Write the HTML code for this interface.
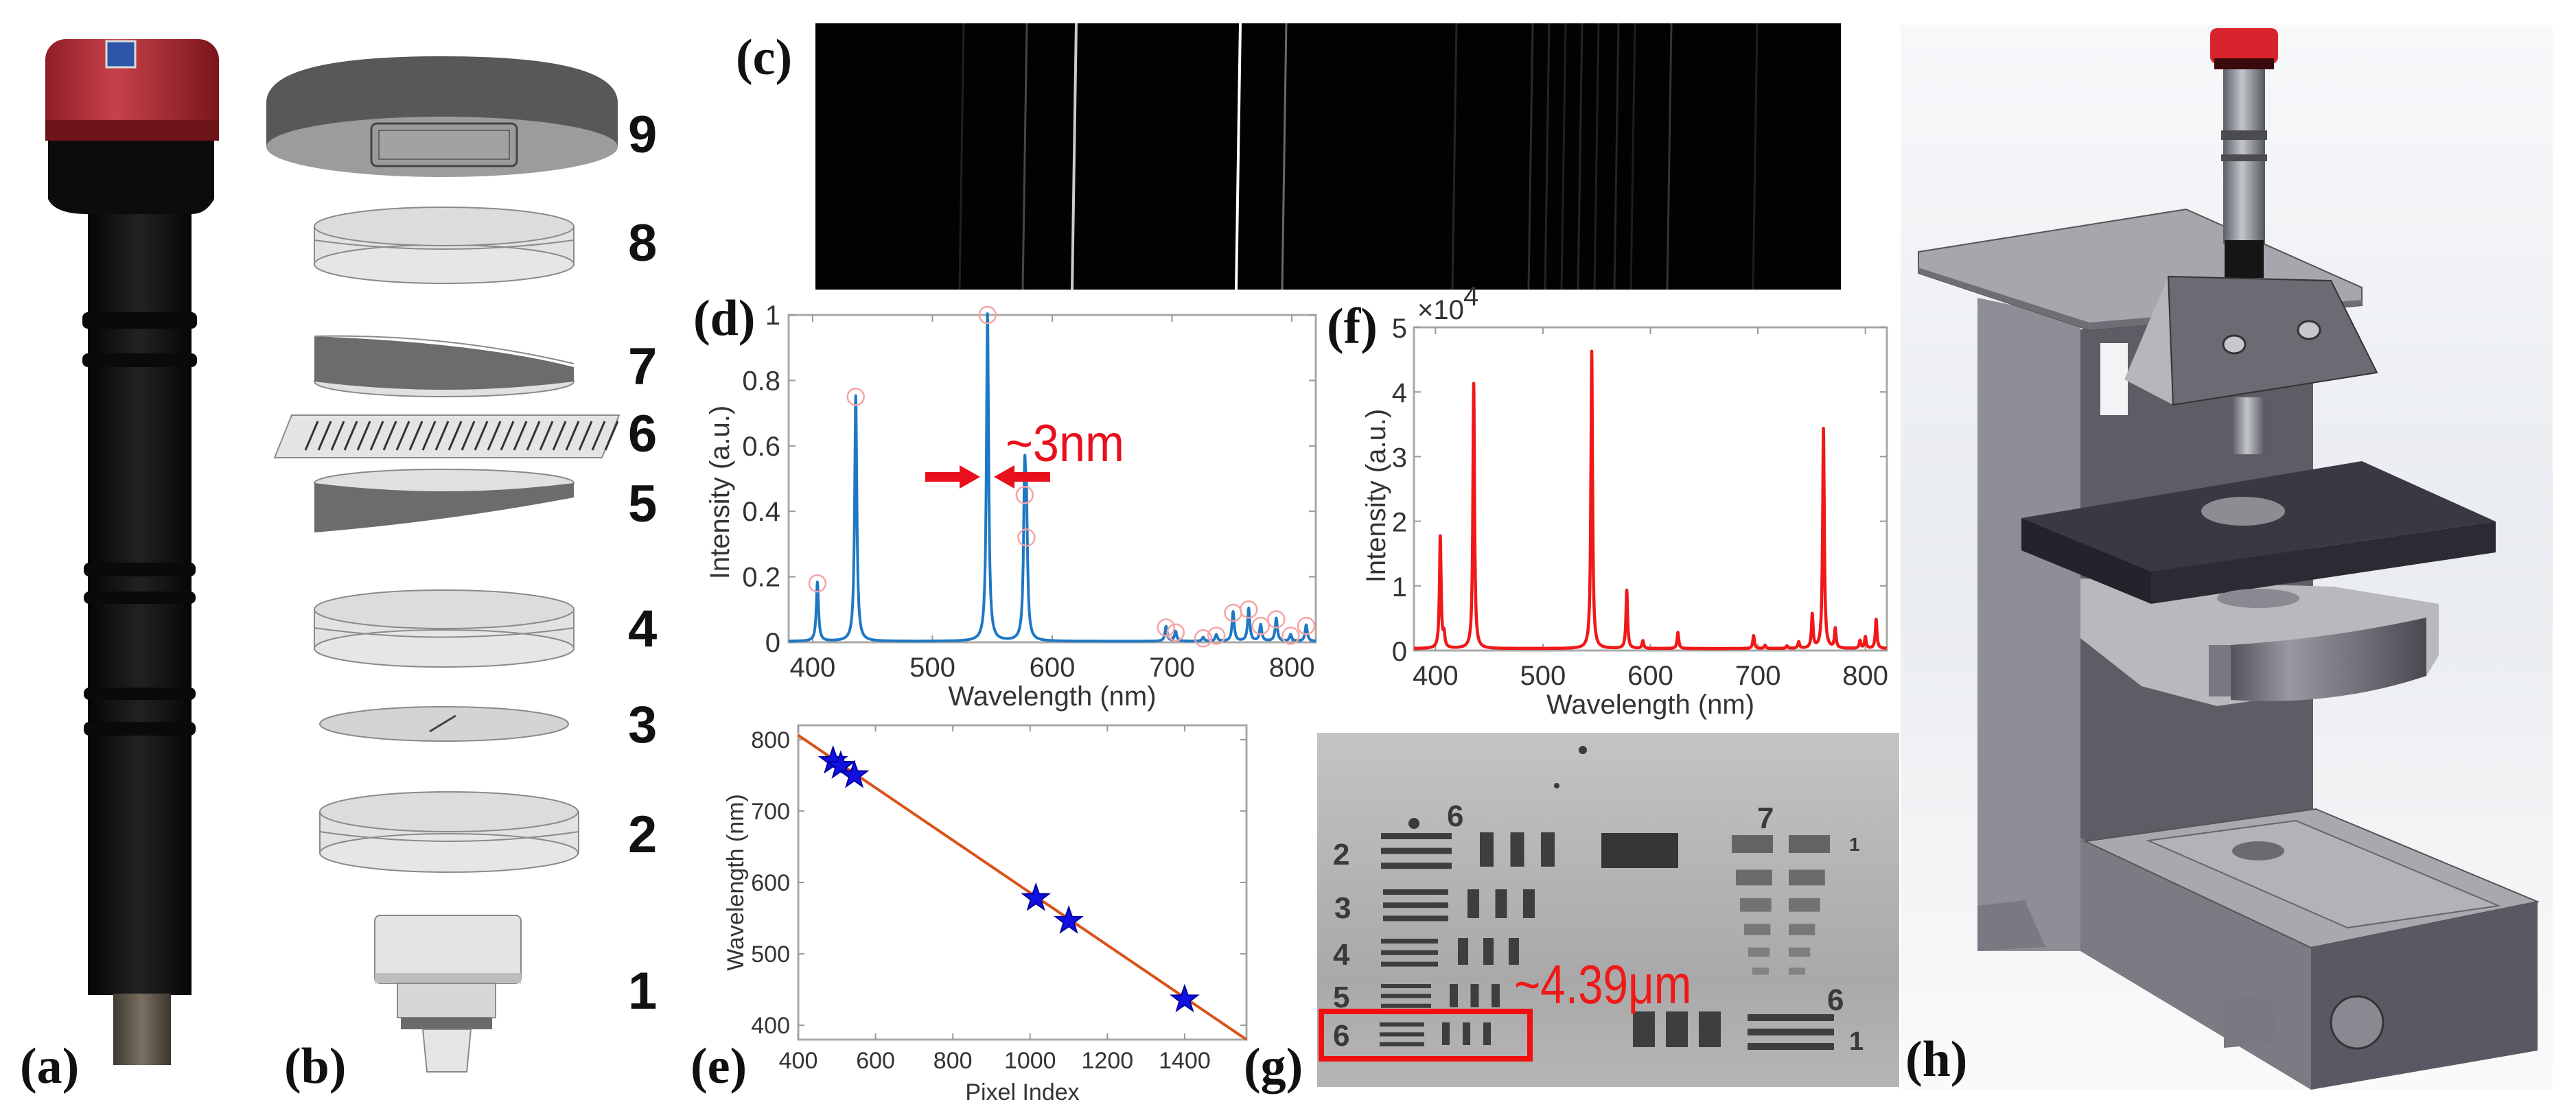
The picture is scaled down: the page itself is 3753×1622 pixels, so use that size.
<!DOCTYPE html>
<html><head><meta charset="utf-8">
<style>
html,body{margin:0;padding:0;background:#fff;}
svg{display:block;}
.lbl{font-family:"Liberation Serif",serif;font-weight:bold;font-size:74px;fill:#111;}
.num{font-family:"Liberation Sans",sans-serif;font-weight:bold;font-size:76px;fill:#111;}
.tk{font-family:"Liberation Sans",sans-serif;font-size:40px;fill:#333;}
.tke{font-family:"Liberation Sans",sans-serif;font-size:34px;fill:#333;}
</style></head>
<body>
<svg id="fig" width="3753" height="1622" viewBox="0 0 3753 1622" xmlns="http://www.w3.org/2000/svg">
<defs>
<linearGradient id="redg" x1="0" x2="1"><stop offset="0" stop-color="#8e1e26"/><stop offset="0.4" stop-color="#c8414a"/><stop offset="1" stop-color="#7a161d"/></linearGradient>
<linearGradient id="tubeg" x1="0" x2="1"><stop offset="0" stop-color="#050505"/><stop offset="0.5" stop-color="#222"/><stop offset="1" stop-color="#060606"/></linearGradient>
<linearGradient id="bronze" x1="0" x2="1"><stop offset="0" stop-color="#3e3a33"/><stop offset="0.5" stop-color="#7a7060"/><stop offset="1" stop-color="#3a352e"/></linearGradient>
<linearGradient id="hbg" x1="0" y1="0" x2="0" y2="1"><stop offset="0" stop-color="#f7f8fa"/><stop offset="0.5" stop-color="#e9ecf0"/><stop offset="1" stop-color="#fafafa"/></linearGradient>
<linearGradient id="silver" x1="0" x2="1"><stop offset="0" stop-color="#5c5e66"/><stop offset="0.45" stop-color="#c4c6cc"/><stop offset="1" stop-color="#55575e"/></linearGradient>
<linearGradient id="gbg" x1="0" y1="0" x2="0" y2="1"><stop offset="0" stop-color="#c4c4c4"/><stop offset="0.45" stop-color="#b2b2b2"/><stop offset="0.7" stop-color="#a9a9a9"/><stop offset="1" stop-color="#b6b6b6"/></linearGradient>
<linearGradient id="roundside" x1="0" x2="1"><stop offset="0" stop-color="#55535b"/><stop offset="0.3" stop-color="#9a98a0"/><stop offset="1" stop-color="#4a4850"/></linearGradient>
</defs>

<g>
  <rect x="128" y="300" width="151" height="1150" fill="url(#tubeg)"/>
  <rect x="120" y="455" width="167" height="24" rx="8" fill="#0a0a0a"/>
  <rect x="120" y="515" width="167" height="20" rx="8" fill="#0a0a0a"/>
  <rect x="122" y="820" width="163" height="20" rx="8" fill="#0a0a0a"/>
  <rect x="122" y="862" width="163" height="18" rx="8" fill="#0a0a0a"/>
  <rect x="122" y="1002" width="163" height="18" rx="8" fill="#0a0a0a"/>
  <rect x="122" y="1052" width="163" height="20" rx="8" fill="#0a0a0a"/>
  <path d="M70 200 L312 200 L312 290 Q300 312 279 312 L128 312 Q80 312 70 290 Z" fill="#0c0c0c"/>
  <rect x="66" y="57" width="253" height="148" rx="30" fill="url(#redg)"/>
  <rect x="66" y="175" width="253" height="30" fill="#6e1318"/>
  <rect x="155" y="60" width="42" height="38" fill="#2d55a8" stroke="#ddd" stroke-width="3"/>
  <rect x="165" y="1448" width="84" height="104" fill="url(#bronze)"/>
</g>
<text class="lbl" x="29" y="1578">(a)</text>

<g stroke="#8a8a8a" stroke-width="2">
  <g>
    <path d="M388 150 Q388 82 644 82 Q900 82 900 150 L900 214 L388 214 Z" fill="#585858" stroke="none"/>
    <ellipse cx="644" cy="214" rx="256" ry="44" fill="#9c9c9c" stroke="none"/>
    <rect x="541" y="180" width="212" height="62" rx="8" fill="#9a9a9a" stroke="#444" stroke-width="3"/>
    <rect x="552" y="190" width="190" height="42" fill="#a2a2a2" stroke="#666" stroke-width="2"/>
  </g>
  <g>
    <path d="M458 330 L836 330 L836 385 L458 385 Z" fill="#e2e2e2"/>
    <ellipse cx="647" cy="385" rx="189" ry="28" fill="#e6e6e6"/>
    <ellipse cx="647" cy="330" rx="189" ry="28" fill="#dcdcdc"/>
    <path d="M458 350 Q647 376 836 350" fill="none"/>
  </g>
  <g>
    <ellipse cx="647" cy="556" rx="189" ry="22" fill="#e0e0e0"/>
    <path d="M458 490 L458 556 Q647 580 836 556 L836 535 Q700 500 458 490 Z" fill="#6c6c6c" stroke="none"/>
    <path d="M458 490 Q650 486 836 530" fill="none"/>
  </g>
  <g>
    <polygon points="425,605 902,605 877,667 400,667" fill="#e4e4e4"/>
    <g id="gratingLines" stroke="#333" stroke-width="3"></g>
  </g>
  <g>
    <ellipse cx="647" cy="704" rx="189" ry="20" fill="#e0e0e0"/>
    <path d="M458 704 L458 776 Q650 760 836 725 L836 704 Q647 728 458 704 Z" fill="#6c6c6c" stroke="none"/>
  </g>
  <g>
    <path d="M458 888 L836 888 L836 945 L458 945 Z" fill="#e2e2e2"/>
    <ellipse cx="647" cy="945" rx="189" ry="27" fill="#e6e6e6"/>
    <ellipse cx="647" cy="888" rx="189" ry="28" fill="#dcdcdc"/>
    <path d="M458 915 Q647 942 836 915" fill="none"/>
  </g>
  <g>
    <ellipse cx="647" cy="1055" rx="181" ry="25" fill="#d4d4d4"/>
    <line x1="626" y1="1066" x2="664" y2="1043" stroke="#444" stroke-width="3"/>
  </g>
  <g>
    <path d="M466 1183 L843 1183 L843 1243 L466 1243 Z" fill="#e2e2e2"/>
    <ellipse cx="654" cy="1243" rx="188" ry="28" fill="#e6e6e6"/>
    <ellipse cx="654" cy="1183" rx="188" ry="29" fill="#dcdcdc"/>
    <path d="M466 1212 Q654 1240 843 1212" fill="none"/>
  </g>
  <g>
    <rect x="546" y="1334" width="213" height="99" rx="8" fill="#e4e4e4" stroke="#888"/>
    <rect x="546" y="1418" width="213" height="15" fill="#bdbdbd" stroke="none"/>
    <rect x="579" y="1433" width="143" height="50" fill="#d6d6d6"/>
    <rect x="584" y="1483" width="133" height="17" fill="#6a6a6a" stroke="none"/>
    <polygon points="616,1500 686,1500 680,1562 622,1562" fill="#e6e6e6"/>
  </g>
</g>
<g>
<text class="num" x="915" y="222">9</text>
<text class="num" x="915" y="380">8</text>
<text class="num" x="915" y="560">7</text>
<text class="num" x="915" y="658">6</text>
<text class="num" x="915" y="760">5</text>
<text class="num" x="915" y="942">4</text>
<text class="num" x="915" y="1082">3</text>
<text class="num" x="915" y="1242">2</text>
<text class="num" x="915" y="1470">1</text>
</g>
<text class="lbl" x="414" y="1578">(b)</text>

<text class="lbl" x="1072" y="108">(c)</text>
<g>
  <rect x="1188" y="34" width="1494" height="388" fill="#020202"/>
  <g id="specLines"></g>
</g>

<text class="lbl" x="1010" y="488">(d)</text>
<g id="chartD"></g>
<g>
  <text x="1465" y="672" font-family="Liberation Sans, sans-serif" font-size="76" fill="#e8101c" transform="translate(1465 672) scale(0.9 1) translate(-1465 -672)">~3nm</text>
  <polygon points="1348,688 1398,688 1398,678 1428,695 1398,712 1398,702 1348,702" fill="#e8101c"/>
  <polygon points="1530,688 1478,688 1478,678 1448,695 1478,712 1478,702 1530,702" fill="#e8101c"/>
</g>

<text class="lbl" x="1933" y="500">(f)</text>
<g id="chartF"></g>

<text class="lbl" x="1006" y="1578">(e)</text>
<g id="chartE"></g>

<text class="lbl" x="1812" y="1578">(g)</text>
<g>
  <rect x="1919" y="1068" width="848" height="516" fill="url(#gbg)"/>
  <g fill="#3a3a3a" font-family="Liberation Sans, sans-serif" font-weight="bold" font-size="44">
    <text x="2108" y="1204">6</text>
    <text x="1942" y="1260">2</text>
    <text x="1944" y="1338">3</text>
    <text x="1942" y="1406">4</text>
    <text x="1942" y="1468">5</text>
    <text x="1942" y="1524">6</text>
    <text x="2560" y="1207">7</text>
    <text x="2662" y="1472">6</text>
    <text x="2694" y="1240" font-size="28">1</text>
    <text x="2694" y="1530" font-size="38">1</text>
    <circle cx="2060" cy="1200" r="8"/>
    <circle cx="2306" cy="1093" r="6"/>
    <circle cx="2268" cy="1145" r="4"/>
  </g>
  <g id="targetBars" fill="#3e3e3e"></g>
  <rect x="2333" y="1214" width="112" height="51" fill="#363636"/>
  <rect x="1925" y="1474" width="304" height="69" fill="none" stroke="#f01010" stroke-width="8"/>
  <text x="2206" y="1462" font-family="Liberation Sans, sans-serif" font-size="80" fill="#f01818" transform="translate(2206 1462) scale(0.82 1) translate(-2206 -1462)">~4.39μm</text>
</g>

<g>
  <rect x="2769" y="36" width="950" height="1552" fill="url(#hbg)"/>
  <polygon points="3031,480 3370,445 3370,1241 3031,1290" fill="#5e5c64"/>
  <rect x="3060" y="500" width="40" height="105" fill="#f2f3f5"/>
  <polygon points="2881,434 3031,465 3031,1386 2881,1386" fill="#8e8e96"/>
  <polygon points="2795,367 3185,305 3441,419 3441,445 3044,481 2795,398" fill="#a6a6ac" stroke="#555" stroke-width="2"/>
  <polygon points="2795,390 3044,470 3441,437 3441,445 3044,481 2795,398" fill="#6e6e76"/>
  <rect x="3239" y="95" width="61" height="260" fill="url(#silver)"/>
  <rect x="3236" y="190" width="67" height="14" fill="#4a4c52"/>
  <rect x="3236" y="225" width="67" height="10" fill="#4a4c52"/>
  <rect x="3241" y="350" width="57" height="55" fill="#151515"/>
  <rect x="3220" y="41" width="99" height="52" rx="10" fill="#d8252d"/>
  <rect x="3226" y="85" width="87" height="16" fill="#3a0a0c"/>
  <polygon points="3095,553 3159,403 3166,590" fill="#b6b6ba"/>
  <polygon points="3159,403 3396,409 3463,543 3166,590" fill="#6c6a72" stroke="#333" stroke-width="2"/>
  <ellipse cx="3255" cy="502" rx="16" ry="13" fill="#c8c8cc" stroke="#333" stroke-width="3"/>
  <ellipse cx="3364" cy="481" rx="16" ry="13" fill="#c8c8cc" stroke="#333" stroke-width="3"/>
  <rect x="3252" y="579" width="48" height="83" fill="url(#silver)"/>
  <polygon points="3031,843 3400,855 3553,880 3553,955 3535,985 3230,1029 3120,1000 3031,930" fill="#b8b8bd"/>
  <path d="M3250 940 Q3400 930 3535 900 L3535 985 Q3400 1030 3250 1020 Z" fill="url(#roundside)"/>
  <rect x="3218" y="940" width="32" height="75" fill="#7a7880"/>
  <polygon points="2945,755 3441,672 3636,760 3134,833" fill="#3a3842"/>
  <polygon points="2945,755 3134,833 3134,880 2945,802" fill="#24222a"/>
  <polygon points="3134,833 3636,760 3636,805 3134,880" fill="#2c2a32"/>
  <ellipse cx="3268" cy="745" rx="61" ry="21" fill="#8c8c92"/>
  <ellipse cx="3290" cy="872" rx="60" ry="14" fill="#8a8890"/>
  <polygon points="3031,1221 3367,1381 3367,1588 3031,1386" fill="#7c7a82"/>
  <polygon points="3038,1226 3374,1179 3697,1314 3367,1381" fill="#a8a8ae" stroke="#555" stroke-width="2"/>
  <polygon points="3130,1225 3345,1196 3640,1320 3420,1352" fill="#b2b2b8" stroke="#666" stroke-width="2"/>
  <polygon points="3367,1381 3697,1314 3697,1531 3367,1588" fill="#5a5862"/>
  <ellipse cx="3290" cy="1240" rx="38" ry="14" fill="#6a6a70"/>
  <circle cx="3434" cy="1490" r="38" fill="#8a8890" stroke="#333" stroke-width="3"/>
  <polygon points="2881,1320 2950,1312 2980,1380 2881,1386" fill="#7a7880"/>
  <polygon points="3240,1455 3310,1448 3320,1520 3240,1527" fill="#7a7880"/>
</g>
<text class="lbl" x="2776" y="1568">(h)</text>
</svg>

<script>
const NS='http://www.w3.org/2000/svg';
function mk(tag,attrs,parent){const e=document.createElementNS(NS,tag);for(const k in attrs)e.setAttribute(k,attrs[k]);parent.appendChild(e);return e;}

const dTicksX=[400,500,600,700,800];
const dTicksY=[0,0.2,0.4,0.6,0.8,1];
const dTickLabelsY=['0','0.2','0.4','0.6','0.8','1'];
const dPeakWave=[404,436,546,577,578.5,695,703,726,737,751,764,774,787,799,812];
const dPeakInt=[0.18,0.75,1.0,0.45,0.32,0.045,0.03,0.012,0.02,0.09,0.10,0.05,0.07,0.02,0.05];

const fTicksX=[400,500,600,700,800];
const fTicksY=[0,1,2,3,4,5];
const fPeakWave=[404.5,408,435.6,545.4,578,593,625.6,696,706.7,727,738,750.6,761,772,795,800,810];
const fPeakInt=[1.75,0.2,4.1,4.6,0.9,0.12,0.25,0.2,0.05,0.04,0.1,0.52,3.4,0.3,0.12,0.18,0.45];
const fBaseline=0.03;

const eTicksX=[400,600,800,1000,1200,1400];
const eTicksY=[400,500,600,700,800];
const ePixel=[490,510,545,1015,1100,1400];
const eWave=[770,763,750,578,546,436];
const eFitStart=[400,806];
const eFitEnd=[1560,380];

const cLinePos=[1401,1493,1565,1804,1871,2119,2230,2254,2278,2302,2326,2355,2379,2432,2557];
const cLineBright=[0.12,0.35,0.85,1.0,0.5,0.15,0.2,0.15,0.12,0.15,0.12,0.15,0.1,0.25,0.1];

function axisBox(g,L,T,R,B){
  const r=mk('rect',{x:L,y:T,width:R-L,height:B-T,fill:'#fff',stroke:'#a8a8a8','stroke-width':3},g);
  
  
}
function profile(waves,ints,gamma,x0,x1,step,base){
  const pts=[];
  for(let x=x0;x<=x1;x+=step){
    let y=base;
    for(let i=0;i<waves.length;i++){const d=x-waves[i];y+=ints[i]*gamma*gamma/(d*d+gamma*gamma);}
    pts.push([x,y]);
  }
  return pts;
}

(function(){
  const g=document.getElementById('chartD');
  const L=1149,R=1917,T=459,B=936,x0=380,x1=820,y0=0,y1=1;
  const X=v=>L+(v-x0)/(x1-x0)*(R-L), Y=v=>B-(v-y0)/(y1-y0)*(B-T);
  axisBox(g,L,T,R,B);
  dTicksX.forEach(v=>{
    const t=mk('line',{x1:X(v),x2:X(v),y1:B,y2:B-10,stroke:'#999','stroke-width':2},g);
    
    
    mk('line',{x1:X(v),x2:X(v),y1:T,y2:T+10,stroke:'#999','stroke-width':2},g);
    const tx=mk('text',{x:X(v),y:B+50,'text-anchor':'middle',class:'tk'},g);tx.textContent=v;
    
    
  });
  dTicksY.forEach((v,i)=>{
    mk('line',{x1:L,x2:L+10,y1:Y(v),y2:Y(v),stroke:'#999','stroke-width':2},g);
    mk('line',{x1:R,x2:R-10,y1:Y(v),y2:Y(v),stroke:'#999','stroke-width':2},g);
    const tx=mk('text',{x:L-12,y:Y(v)+14,'text-anchor':'end',class:'tk'},g);tx.textContent=dTickLabelsY[i];
    
    
  });
  const xl=mk('text',{x:(L+R)/2,y:B+92,'text-anchor':'middle',class:'tk','font-size':'44'},g);xl.textContent='Wavelength (nm)';
  
  
  const yl=mk('text',{x:0,y:0,'text-anchor':'middle',class:'tk','font-size':'42',transform:`translate(1062 ${(T+B)/2+20}) rotate(-90)`},g);yl.textContent='Intensity (a.u.)';
  
  
  const pts=profile(dPeakWave,dPeakInt,1.1,x0,x1,0.25,0.003);
  const pl=mk('polyline',{points:pts.map(p=>X(p[0]).toFixed(1)+','+Y(Math.min(p[1],1.01)).toFixed(1)).join(' '),fill:'none',stroke:'#1f78c4','stroke-width':4,'stroke-linejoin':'round'},g);
  
  
  dPeakWave.forEach((w,i)=>{
    const c=mk('circle',{cx:X(w),cy:Y(dPeakInt[i]),r:12,fill:'none',stroke:'#f4a4a4','stroke-width':2.5},g);
    
    
  });
})();

(function(){
  const g=document.getElementById('chartF');
  const L=2060,R=2749,T=477,B=948,x0=380,x1=820,y0=0,y1=5;
  const X=v=>L+(v-x0)/(x1-x0)*(R-L), Y=v=>B-(v-y0)/(y1-y0)*(B-T);
  axisBox(g,L,T,R,B);
  fTicksX.forEach(v=>{
    mk('line',{x1:X(v),x2:X(v),y1:B,y2:B-10,stroke:'#999','stroke-width':2},g);
    mk('line',{x1:X(v),x2:X(v),y1:T,y2:T+10,stroke:'#999','stroke-width':2},g);
    const tx=mk('text',{x:X(v),y:B+50,'text-anchor':'middle',class:'tk'},g);tx.textContent=v;
    
    
  });
  fTicksY.forEach(v=>{
    mk('line',{x1:L,x2:L+10,y1:Y(v),y2:Y(v),stroke:'#999','stroke-width':2},g);
    mk('line',{x1:R,x2:R-10,y1:Y(v),y2:Y(v),stroke:'#999','stroke-width':2},g);
    const tx=mk('text',{x:L-10,y:Y(v)+15,'text-anchor':'end',class:'tk','font-size':'42'},g);tx.textContent=v;
    
    
  });
  const ex=mk('text',{x:L+5,y:T-12,class:'tk','font-size':'34'},g);ex.textContent='×10';
  
  
  const ex2=mk('text',{x:L+72,y:T-32,class:'tk','font-size':'24'},g);ex2.textContent='4';
  
  
  const xl=mk('text',{x:(L+R)/2,y:B+92,'text-anchor':'middle',class:'tk','font-size':'44'},g);xl.textContent='Wavelength (nm)';
  
  
  const yl=mk('text',{x:0,y:0,'text-anchor':'middle',class:'tk','font-size':'44',transform:`translate(2018 ${(T+B)/2+10}) rotate(-90)`},g);yl.textContent='Intensity (a.u.)';
  
  
  const pts=profile(fPeakWave,fPeakInt,0.9,x0,x1,0.2,fBaseline);
  const pl=mk('polyline',{points:pts.map(p=>X(p[0]).toFixed(1)+','+Y(p[1]).toFixed(1)).join(' '),fill:'none',stroke:'#f01818','stroke-width':4.5,'stroke-linejoin':'round'},g);
  
  
})();

(function(){
  const g=document.getElementById('chartE');
  const L=1163,R=1816,T=1057,B=1515,x0=400,x1=1560,y0=380,y1=820;
  const X=v=>L+(v-x0)/(x1-x0)*(R-L), Y=v=>B-(v-y0)/(y1-y0)*(B-T);
  axisBox(g,L,T,R,B);
  eTicksX.forEach(v=>{
    mk('line',{x1:X(v),x2:X(v),y1:B,y2:B-9,stroke:'#999','stroke-width':2},g);
    mk('line',{x1:X(v),x2:X(v),y1:T,y2:T+9,stroke:'#999','stroke-width':2},g);
    const tx=mk('text',{x:X(v),y:B+42,'text-anchor':'middle',class:'tke'},g);tx.textContent=v;
    
    
  });
  eTicksY.forEach(v=>{
    mk('line',{x1:L,x2:L+9,y1:Y(v),y2:Y(v),stroke:'#999','stroke-width':2},g);
    mk('line',{x1:R,x2:R-9,y1:Y(v),y2:Y(v),stroke:'#999','stroke-width':2},g);
    const tx=mk('text',{x:L-12,y:Y(v)+12,'text-anchor':'end',class:'tke'},g);tx.textContent=v;
    
    
  });
  const xl=mk('text',{x:(L+R)/2,y:B+88,'text-anchor':'middle',class:'tke','font-size':'38'},g);xl.textContent='Pixel Index';
  
  
  const yl=mk('text',{x:0,y:0,'text-anchor':'middle',class:'tke','font-size':'36',transform:`translate(1083 ${(T+B)/2}) rotate(-90)`},g);yl.textContent='Wavelength (nm)';
  
  
  const ln=mk('line',{x1:X(eFitStart[0]),y1:Y(eFitStart[1]),x2:X(eFitEnd[0]),y2:Y(eFitEnd[1]),stroke:'#d95319','stroke-width':4},g);
  
  
  ePixel.forEach((p,i)=>{
    const cx=X(p),cy=Y(eWave[i]);let d='';
    for(let k=0;k<10;k++){const r=k%2?8:20;const a=-Math.PI/2+k*Math.PI/5;d+=(k?'L':'M')+(cx+r*Math.cos(a)).toFixed(1)+' '+(cy+r*Math.sin(a)).toFixed(1);}
    const s=mk('path',{d:d+'Z',fill:'#1010e0',stroke:'#0000a0','stroke-width':2},g);
    
    
  });
})();

(function(){
  const g=document.getElementById('specLines');
  cLinePos.forEach((x,i)=>{
    const b=cLineBright[i];const v=Math.round(40+215*b);
    const l=mk('line',{x1:x+3,y1:34,x2:x-3,y2:422,stroke:`rgb(${v},${v},${v})`,'stroke-width':b>0.6?4:3,opacity:0.4+0.6*b},g);
    
    
  });
})();

(function(){
  const g=document.getElementById('gratingLines');
  for(let k=0;k<24;k++){
    const x=445+k*19;
    const l=mk('line',{x1:x+18,y1:614,x2:x,y2:656},g);
    
    
  }
})();

(function(){
  const g=document.getElementById('targetBars');
  const rows=[[2012,2115,1214,9,2156,2265,1213,1263,20],[2015,2110,1296,8,2138,2236,1296,1338,17],[2012,2095,1368,7,2124,2213,1367,1406,15],[2012,2085,1434,6,2112,2185,1434,1468,12],[2010,2075,1490,6,2101,2172,1490,1523,11]];
  rows.forEach(r=>{
    for(let k=0;k<3;k++){
      const h=mk('rect',{x:r[0],y:r[2]+k*r[3]*2.4,width:r[1]-r[0],height:r[3]},g);
      
      
      const w=r[8];const gap=(r[5]-r[4]-3*w)/2;
      const v=mk('rect',{x:r[4]+k*(w+gap),y:r[6],width:w,height:r[7]-r[6]},g);
      
      
    }
  });
  const r7=[1229,1278,1318,1354,1387,1415];
  r7.forEach((y,i)=>{
    const s=1-i*0.12;
    const b=mk('rect',{x:2523+i*6,y:y-12*s,width:60*s,height:26*s,fill:'#555',opacity:0.85-i*0.08},g);
    
    
    const c=mk('rect',{x:2606,y:y-12*s,width:60*s,height:26*s,fill:'#555',opacity:0.85-i*0.08},g);
    
    
  });
  for(let k=0;k<3;k++){
    const v=mk('rect',{x:2379+k*48,y:1474,width:32,height:52},g);
    
    
    const h=mk('rect',{x:2546,y:1478+k*21,width:126,height:10},g);
    
    
  }
})();
</script>
</body></html>
